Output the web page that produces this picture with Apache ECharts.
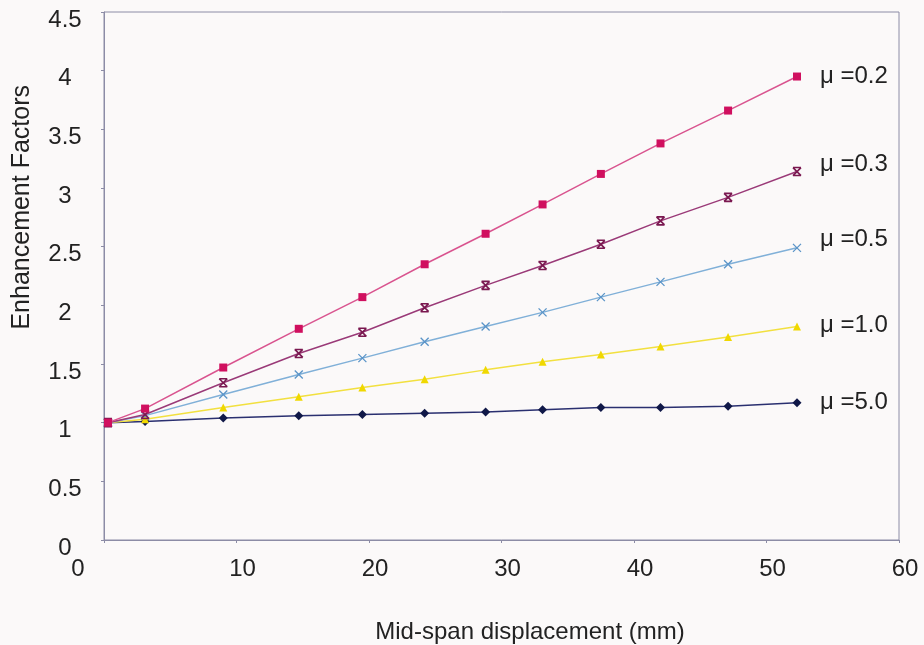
<!DOCTYPE html>
<html>
<head>
<meta charset="utf-8">
<script src="https://cdn.jsdelivr.net/npm/echarts@6/dist/echarts.min.js"></script>
<style>
  html, body { margin: 0; padding: 0; background: #fbf9f9; }
  #chart { width: 924px; height: 645px; }
</style>
</head>
<body>
<div id="chart"></div>
<script>
// Data
const displacement = [0.3, 3.1, 9.0, 14.7, 19.5, 24.2, 28.8, 33.1, 37.5, 42.0, 47.1, 52.3];
const mu02 = [1.0, 1.12, 1.47, 1.80, 2.07, 2.35, 2.61, 2.86, 3.12, 3.38, 3.66, 3.95];
const mu03 = [1.0, 1.07, 1.34, 1.59, 1.77, 1.98, 2.17, 2.34, 2.52, 2.72, 2.92, 3.14];
const mu05 = [1.0, 1.06, 1.24, 1.41, 1.55, 1.69, 1.82, 1.94, 2.07, 2.20, 2.35, 2.49];
const mu10 = [1.0, 1.03, 1.13, 1.22, 1.30, 1.37, 1.45, 1.52, 1.58, 1.65, 1.73, 1.82];
const mu50 = [1.0, 1.01, 1.04, 1.06, 1.07, 1.08, 1.09, 1.11, 1.13, 1.13, 1.14, 1.17];
const seriesNames = ['μ =0.2', 'μ =0.3', 'μ =0.5', 'μ =1.0', 'μ =5.0'];
const xTitle = 'Mid-span displacement (mm)';
const yTitle = 'Enhancement Factors';

const FONT = '"Liberation Sans", Arial, Helvetica, sans-serif';
const pairs = arr => displacement.map((x, i) => [x, arr[i]]);

const styles = [
  { line: '#d9548f', fill: '#d0105f', border: '#d0105f', symbol: 'rect', size: 8, bw: 0, dy: 0 },
  { line: '#9a3a78', fill: 'transparent', border: '#7a1850', symbol: 'path://M0,0L10,10M10,0L0,10M0,0L10,0M0,10L10,10', size: 8, bw: 1.6, dy: -7 },
  { line: '#80b0d8', fill: 'transparent', border: '#5a94c8', symbol: 'path://M0,0L10,10M10,0L0,10', size: 8, bw: 1.3, dy: -8 },
  { line: '#f2e040', fill: '#f0d800', border: '#f0d800', symbol: 'triangle', size: 8, bw: 0, dy: -1 },
  { line: '#2a3070', fill: '#101848', border: '#101848', symbol: 'diamond', size: 9, bw: 0, dy: 0 }
];
const datasets = [mu02, mu03, mu05, mu10, mu50];

const series = datasets.map((d, i) => ({
  name: seriesNames[i],
  type: 'line',
  data: pairs(d),
  symbol: styles[i].symbol,
  symbolSize: styles[i].size,
  showAllSymbol: true,
  lineStyle: { color: styles[i].line, width: 1.5 },
  itemStyle: { color: styles[i].fill, borderColor: styles[i].border, borderWidth: styles[i].bw },
  emphasis: { disabled: true },
  z: 10 - i,
  endLabel: {
    show: true,
    formatter: seriesNames[i],
    distance: 23,
    offset: [0, styles[i].dy],
    color: '#222',
    fontSize: 24,
    fontFamily: FONT
  },
  animation: false
}));

const chart = echarts.init(document.getElementById('chart'));
chart.setOption({
  backgroundColor: '#fbf9f9',
  animation: false,
  grid: {
    left: 104, right: 25, top: 12, bottom: 105,
    show: true, borderColor: '#8c8ca6', borderWidth: 1, backgroundColor: 'transparent'
  },
  xAxis: {
    type: 'value', min: 0, max: 60, interval: 10,
    axisLine: { show: true, lineStyle: { color: '#8c8ca6', width: 1 } },
    axisTick: { show: true, inside: false, length: 3, lineStyle: { color: '#8c8ca6' } },
    splitLine: { show: false },
    axisLabel: {
      margin: 17,
      color: '#222',
      fontSize: 24,
      fontFamily: FONT,
      formatter: v => v === 0 ? '{z|0}' : '{n|' + v + '}',
      rich: {
        z: { fontSize: 24, fontFamily: FONT, color: '#222', padding: [0, 52, 0, 0] },
        n: { fontSize: 24, fontFamily: FONT, color: '#222', padding: [0, 0, 0, 12] }
      }
    }
  },
  yAxis: {
    type: 'value', min: 0, max: 4.5, interval: 0.5,
    axisLine: { show: true, lineStyle: { color: '#8c8ca6', width: 1 } },
    axisTick: { show: true, inside: false, length: 3, lineStyle: { color: '#8c8ca6' } },
    splitLine: { show: false },
    axisLabel: {
      margin: 39,
      align: 'center',
      verticalAlign: 'top',
      lineHeight: 16,
      color: '#222',
      fontSize: 24,
      fontFamily: FONT
    }
  },
  graphic: [
    {
      type: 'text',
      left: 10, top: 85,
      rotation: Math.PI / 2,
      style: { text: yTitle, fill: '#222', fontSize: 25, fontFamily: FONT }
    },
    {
      type: 'text',
      x: 530, y: 632,
      style: { text: xTitle, fill: '#222', fontSize: 24, fontFamily: FONT, align: 'center', verticalAlign: 'middle' }
    }
  ],
  series: series
});
</script>
</body>
</html>
